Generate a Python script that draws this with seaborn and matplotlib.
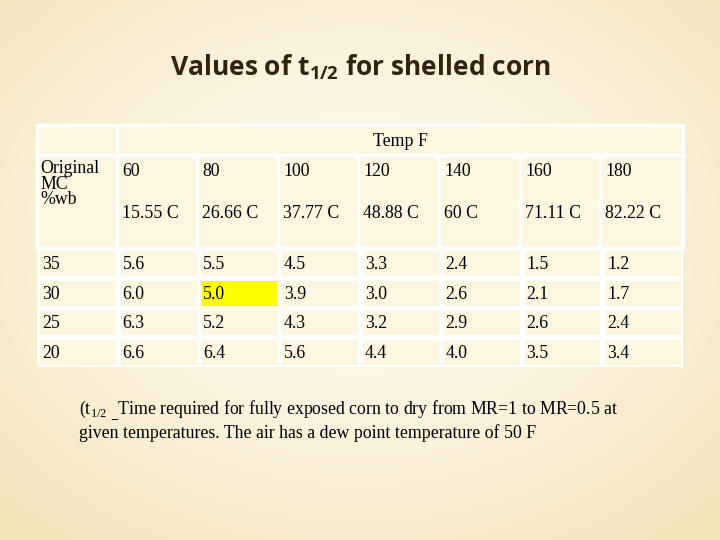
import numpy as np
import pandas as pd
import matplotlib
matplotlib.use("Agg")
import matplotlib.pyplot as plt
import seaborn as sns
from matplotlib.colors import ListedColormap
from matplotlib.patches import Rectangle

mc = ["35", "30", "25", "20"]
temps_f = ["60", "80", "100", "120", "140", "160", "180"]
temps_c = ["15.55 C", "26.66 C", "37.77 C", "48.88 C", "60 C", "71.11 C", "82.22 C"]
values = [
    [5.6, 5.5, 4.5, 3.3, 2.4, 1.5, 1.2],
    [6.0, 5.0, 3.9, 3.0, 2.6, 2.1, 1.7],
    [6.3, 5.2, 4.3, 3.2, 2.9, 2.6, 2.4],
    [6.6, 6.4, 5.6, 4.4, 4.0, 3.5, 3.4],
]
highlight = (1, 1)

W, H = 720, 540
fig = plt.figure(figsize=(7.2, 5.4), dpi=100)

bg = fig.add_axes([0, 0, 1, 1])
yy, xx = np.mgrid[0:1:200j, 0:1:200j]
r = np.sqrt((xx - 0.5) ** 2 + (yy - 0.45) ** 2) / 0.7
c0 = np.array([254, 251, 240]) / 255
c1 = np.array([243, 228, 186]) / 255
img = c0 + (c1 - c0) * np.clip(r, 0, 1)[..., None] ** 1.5
bg.imshow(img, extent=[0, W, H, 0], aspect="auto")
bg.set_xlim(0, W); bg.set_ylim(H, 0); bg.axis("off")

cell = "#FDF6E0"
serif = "Liberation Serif"
fs = 12.8

bg.text(360, 67, r"Values of t$_{\mathregular{1/2}}$ for shelled corn", ha="center", va="center",
        fontsize=19, fontweight="bold", family="Open Sans", color="#2e2410")

def rect(x0, y0, x1, y1):
    bg.add_patch(Rectangle((x0, y0), x1 - x0, y1 - y0, facecolor=cell, edgecolor="white", lw=2.5))

rect(37, 125, 117, 155)
rect(117, 125, 683, 155)
bg.text(400, 141, "Temp F", ha="center", va="center", fontsize=fs, family=serif)
xs = [37, 117, 197, 278, 358, 439, 520, 600, 683]
for i in range(8):
    rect(xs[i], 155, xs[i + 1], 248)
bg.text(40, 160, "Original\nMC\n%wb", ha="left", va="top", fontsize=fs, family=serif, linespacing=0.9)
for i in range(7):
    bg.text(xs[i + 1] + 5, 171, temps_f[i], ha="left", va="center", fontsize=fs, family=serif)
    bg.text(xs[i + 1] + 5, 213, temps_c[i], ha="left", va="center", fontsize=fs, family=serif)

df = pd.DataFrame(values, index=mc, columns=temps_f)
full = pd.DataFrame(np.zeros((4, 8)), index=mc, columns=["MC"] + temps_f)
full.iloc[highlight[0], highlight[1] + 1] = 1
ax = fig.add_axes([37 / W, 1 - 367 / H, (683 - 37) / W, (367 - 248) / H])
sns.heatmap(full, ax=ax, cmap=ListedColormap([cell, "#FFFF00"]), vmin=0, vmax=1,
            cbar=False, linewidths=2.5, linecolor="white", xticklabels=False, yticklabels=False)
for r_i, m in enumerate(mc):
    ax.text(0.06, r_i + 0.55, m, ha="left", va="center", fontsize=fs, family=serif)
    for c_i in range(7):
        ax.text(c_i + 1.06, r_i + 0.55, f"{df.iloc[r_i, c_i]:.1f}", ha="left", va="center",
                fontsize=fs, family=serif)
ax.set_xlabel(""); ax.set_ylabel("")

bg.text(79, 410, r"(t$_{\mathregular{1/2}}$ $_{\_}$Time required for fully exposed corn to dry from MR=1 to MR=0.5 at",
        ha="left", va="center", fontsize=fs, family=serif)
bg.text(79, 433, "given temperatures. The air has a dew point temperature of 50 F",
        ha="left", va="center", fontsize=fs, family=serif)

fig.savefig("out.png", dpi=100)
